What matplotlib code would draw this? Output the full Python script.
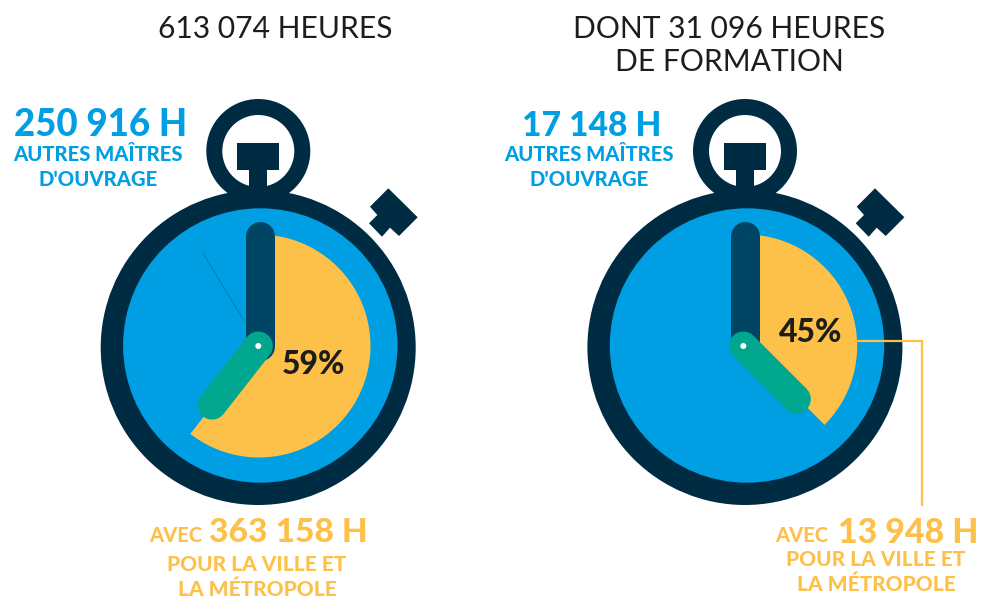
import matplotlib
matplotlib.use("Agg")
import matplotlib.pyplot as plt
import numpy as np
from matplotlib.patches import Circle, Wedge, Rectangle, Polygon

# Data
titles = ["613 074 HEURES", "DONT 31 096 HEURES\nDE FORMATION"]
other_hours = ["250 916 H", "17 148 H"]
city_hours = ["363 158 H", "13 948 H"]
percent_labels = ["59%", "45%"]
drawn_sweep_deg = [218, 135]   # angle of the yellow sector as drawn, clockwise from 12 o'clock
other_label = "AUTRES MAÎTRES\nD'OUVRAGE"
avec_label = "AVEC"
city_label = "POUR LA VILLE ET\nLA MÉTROPOLE"

DARK = "#002C43"; BLUE = "#009FE3"; YEL = "#FDC049"; HAND = "#004563"; GREEN = "#00A78E"; INK = "#1D1D1B"
FONT = "Lato"
plt.rcParams["font.family"] = [FONT, "DejaVu Sans"]
HEAVY = 900

fig = plt.figure(figsize=(9.86, 5.98), dpi=100, facecolor="white")
ax = fig.add_axes([0, 0, 1, 1])
ax.set_xlim(0, 986); ax.set_ylim(598, 0); ax.axis("off")

DX = 486.7
HAND_DX = 485.0
button = np.array([(388.3,188.3),(417.7,217.3),(399,236),(390,227.7),(382,236.7),(369,223.3),(377.3,215),(370,206.7)])

def rounded_hand(x0, y0, x1, y1, w, color, z):
    ax.plot([x0, x1], [y0, y1], color=color, lw=w*0.72, solid_capstyle="round", zorder=z)

for i in range(2):
    off = i * DX
    hoff = i * HAND_DX
    cx, cy = 258.2 + off, 347.5
    # crown
    ax.add_patch(Circle((258.3+off, 151), 44, fc="none", ec=DARK, lw=16*0.72, zorder=1))
    ax.add_patch(Rectangle((237.3+off, 143.3), 42, 26.7, fc=DARK, ec="none", zorder=1))
    ax.add_patch(Rectangle((249.3+off, 165), 18, 30, fc=DARK, ec="none", zorder=1))
    ax.add_patch(Polygon(button + [off, 0], closed=True, fc=DARK, ec="none", zorder=1))
    # body
    ax.add_patch(Circle((cx, cy), 157.5, fc=DARK, ec="none", zorder=2))
    ax.add_patch(Circle((260.3+off, 345.5), 137.2, fc=BLUE, ec="none", zorder=3))
    # sector (y axis is inverted, so matplotlib angles run clockwise on screen)
    wx, wy = 259+off, 346
    sweep = drawn_sweep_deg[i]
    ax.add_patch(Wedge((wx, wy), 111.5, -90, -90 + sweep, fc=YEL, ec="none", zorder=4))
    # hands
    px, py = 258.3+hoff, 346
    hx = 259.7+hoff
    ax.plot([hx, hx], [235.5, 346], color=HAND, lw=29*0.72, solid_capstyle="round", zorder=5)
    a = np.radians(sweep)
    L = 75
    rounded_hand(px, py, px + L*np.sin(a), py - L*np.cos(a), 29, GREEN, 6)
    ax.add_patch(Circle((px, py), 3, fc="white", ec="none", zorder=7))

# faint stray line on the left dial
ax.plot([202.7, 245], [252.7, 322.3], color=HAND, lw=0.35, alpha=0.7, zorder=4.5)

# connector
ax.plot([858, 922, 922], [340.7, 340.7, 505], color=YEL, lw=2.2*0.72, zorder=8, solid_joinstyle="miter")

# percent labels
ax.text(313, 364, percent_labels[0], fontsize=23, fontweight=HEAVY, color=INK, ha="center", va="center", zorder=9)
ax.text(811, 333, percent_labels[1], fontsize=23, fontweight=HEAVY, color=INK, ha="center", va="center", zorder=9)

# titles
ax.text(275, 28.5, titles[0], fontsize=21.6, color=INK, ha="center", va="center")
ax.text(729, 45.5, titles[1], fontsize=21.6, color=INK, ha="center", va="center", linespacing=1.25)

# blue blocks
ax.text(101, 125.5, other_hours[0], fontsize=26.4, fontweight=HEAVY, color=BLUE, ha="center", va="center")
ax.text(98, 167, other_label, fontsize=14.6, fontweight=HEAVY, color=BLUE, ha="center", va="center", linespacing=1.32)
ax.text(592, 125.5, other_hours[1], fontsize=24.2, fontweight=HEAVY, color=BLUE, ha="center", va="center")
ax.text(589, 167, other_label, fontsize=14.6, fontweight=HEAVY, color=BLUE, ha="center", va="center", linespacing=1.32)

# yellow blocks
ax.text(149, 536, avec_label, fontsize=14.5, fontweight=HEAVY, color=YEL, ha="left", va="center")
ax.text(209, 533, city_hours[0], fontsize=24.1, fontweight=HEAVY, color=YEL, ha="left", va="center")
ax.text(257, 577, city_label, fontsize=15, fontweight=HEAVY, color=YEL, ha="center", va="center", linespacing=1.3)
ax.text(775, 536, avec_label, fontsize=14.5, fontweight=HEAVY, color=YEL, ha="left", va="center")
ax.text(838, 533, city_hours[1], fontsize=24.4, fontweight=HEAVY, color=YEL, ha="left", va="center")
ax.text(876, 572, city_label, fontsize=15, fontweight=HEAVY, color=YEL, ha="center", va="center", linespacing=1.3)

fig.savefig("out.png", dpi=100, facecolor="white")
